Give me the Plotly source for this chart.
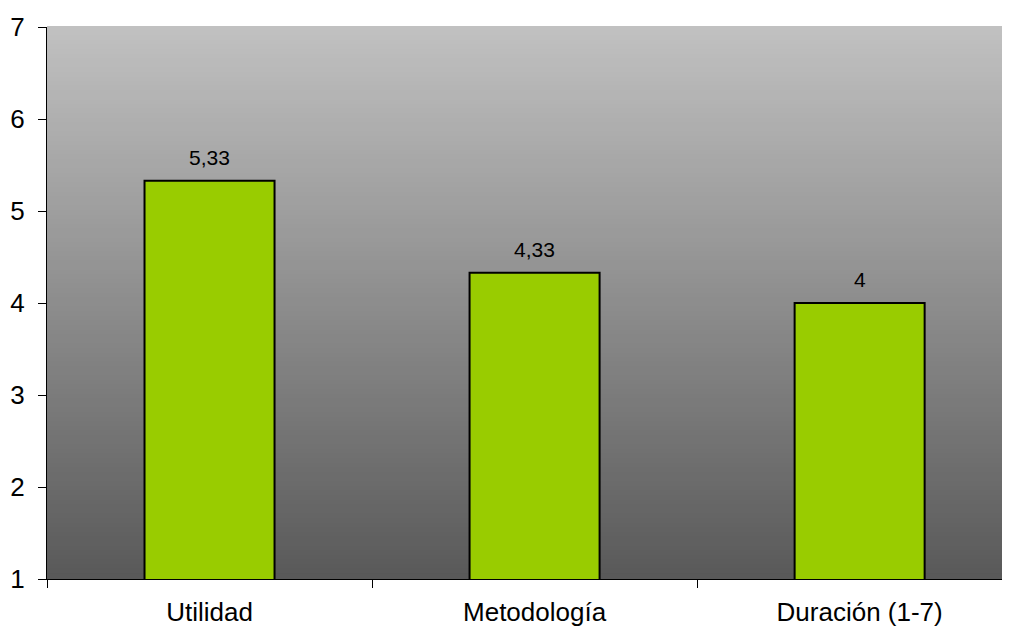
import plotly.graph_objects as go

categories = ["Utilidad", "Metodología", "Duración (1-7)"]
values = [5.33, 4.33, 4.0]
value_labels = ["5,33", "4,33", "4"]
y_ticks = [1, 2, 3, 4, 5, 6, 7]

fig = go.Figure()
fig.add_trace(go.Bar(
    x=categories, y=values, width=0.4,
    marker=dict(color="#99CC00", line=dict(color="black", width=2)),
    hoverinfo="skip",
))

# gradient background stripes
n = 120
top, bot = 193, 89
shapes = []
for i in range(n):
    c = round(top + (bot - top) * (i + 0.5) / n)
    shapes.append(dict(type="rect", xref="paper", yref="paper", layer="below",
                       x0=0, x1=1, y0=1 - (i + 1) / n, y1=1 - i / n + 0.002,
                       fillcolor=f"rgb({c},{c},{c})", line=dict(width=0)))

annotations = [dict(x=c, y=v, text=t, showarrow=False, xref="x", yref="y",
                    yanchor="bottom", yshift=10,
                    font=dict(family="Liberation Sans, Arial", size=21, color="black"))
               for c, v, t in zip(categories, values, value_labels)]

fig.update_layout(
    width=994, height=622,
    margin=dict(l=39, r=0, t=19, b=51, autoexpand=False),
    paper_bgcolor="white", plot_bgcolor="rgba(0,0,0,0)",
    shapes=shapes, annotations=annotations,
    showlegend=False,
    separators=", ",
    font=dict(family="Liberation Sans, Arial", color="black"),
    xaxis=dict(range=[-0.5, 2.438], showgrid=False, showline=True, linecolor="black",
               linewidth=1, ticks="outside", tickson="boundaries", ticklen=8,
               tickcolor="black", tickfont=dict(size=26), zeroline=False,
               ticklabelstandoff=10),
    yaxis=dict(range=[1, 7], tickvals=y_ticks, showgrid=False, showline=True,
               linecolor="black", linewidth=1, ticks="outside", ticklen=8,
               tickcolor="black", tickfont=dict(size=26), zeroline=False,
               ticklabelstandoff=8),
)

fig.write_html("out.html")
